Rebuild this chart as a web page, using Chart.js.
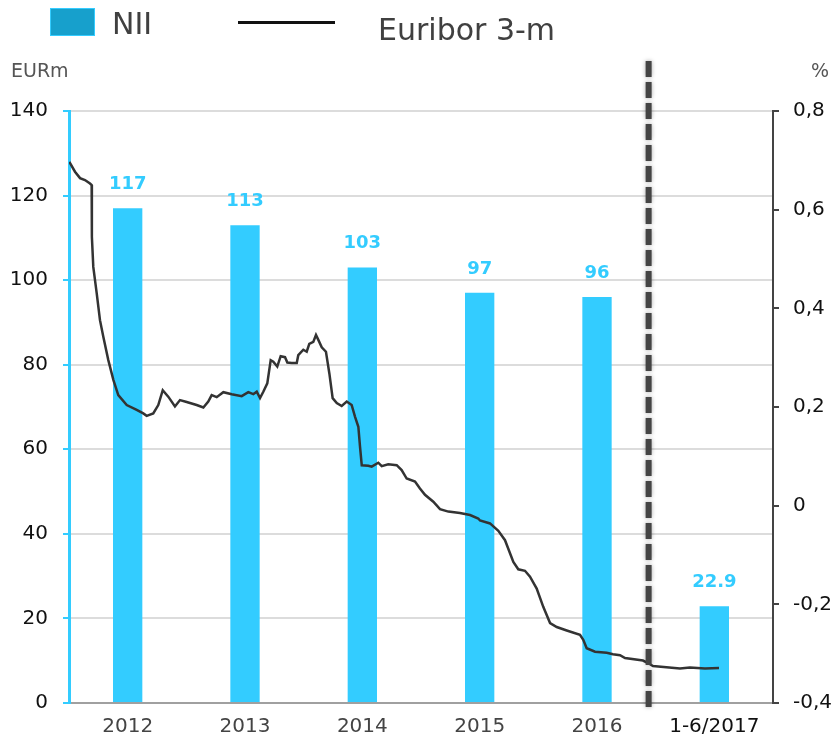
<!DOCTYPE html>
<html>
<head>
<meta charset="utf-8">
<title>NII and Euribor 3-m</title>
<script src="https://cdn.jsdelivr.net/npm/chart.js@4.4.1/dist/chart.umd.min.js"></script>
<style>
  body { margin: 0; background: #fff; }
  #wrap { position: relative; width: 838px; height: 746px; font-family: "DejaVu Sans", Verdana, sans-serif; }
  #wrap canvas { display: block; }
  #wrap .txt { position: absolute; line-height: 1; white-space: nowrap; color: #404040; }
  .swatch { position: absolute; left: 50px; top: 8px; width: 45px; height: 28px; box-sizing: border-box;
            background: #17a0cc; border: 1px solid #33ccff; }
  .legline { position: absolute; left: 238px; top: 21px; width: 97px; height: 3px; background: #111; }
</style>
</head>
<body>
<div id="wrap">
  <canvas id="niiChart" width="838" height="746"></canvas>
  <div class="swatch"></div>
  <div class="txt" style="left:112px; top:9px; font-size:30px;">NII</div>
  <div class="legline"></div>
  <div class="txt" style="left:378px; top:15px; font-size:30px;">Euribor 3-m</div>
  <div class="txt" style="left:11px; top:61px; font-size:19px; color:#555;">EURm</div>
  <div class="txt" style="left:811px; top:61px; font-size:19px; color:#555;">%</div>
</div>
<script>
const categories = ["2012", "2013", "2014", "2015", "2016", "1-6/2017"];
const niiValues = [117, 113, 103, 97, 96, 22.9];
const niiLabels = ["117", "113", "103", "97", "96", "22.9"];

// Euribor 3-m (time in years, rate in %)
const euriborTime = [
  2012.003, 2012.051, 2012.094, 2012.136, 2012.179, 2012.193, 2012.195, 2012.207, 2012.236, 2012.264,
  2012.292, 2012.335, 2012.378, 2012.420, 2012.492, 2012.577, 2012.633, 2012.662, 2012.718, 2012.761,
  2012.799, 2012.846, 2012.903, 2012.946, 2013.003, 2013.088, 2013.145, 2013.187, 2013.216, 2013.259,
  2013.315, 2013.387, 2013.472, 2013.528, 2013.571, 2013.600, 2013.628, 2013.656, 2013.690, 2013.719,
  2013.741, 2013.775, 2013.804, 2013.841, 2013.861, 2013.898, 2013.941, 2013.954, 2013.997, 2014.026,
  2014.048, 2014.082, 2014.105, 2014.125, 2014.154, 2014.190, 2014.219, 2014.247, 2014.282, 2014.324,
  2014.367, 2014.409, 2014.438, 2014.466, 2014.480, 2014.495, 2014.551, 2014.580, 2014.636, 2014.665,
  2014.721, 2014.793, 2014.835, 2014.878, 2014.949, 2014.991, 2015.034, 2015.105, 2015.162, 2015.233,
  2015.332, 2015.418, 2015.488, 2015.503, 2015.588, 2015.659, 2015.716, 2015.787, 2015.829, 2015.886,
  2015.929, 2015.986, 2016.042, 2016.100, 2016.157, 2016.242, 2016.355, 2016.383, 2016.412, 2016.483,
  2016.583, 2016.636, 2016.696, 2016.739, 2016.892, 2016.935, 2016.977, 2017.207, 2017.292, 2017.420,
  2017.540
];
const euriborRate = [
  0.697, 0.677, 0.664, 0.660, 0.653, 0.650, 0.545, 0.484, 0.431, 0.376,
  0.343, 0.295, 0.255, 0.224, 0.204, 0.194, 0.187, 0.182, 0.187, 0.204,
  0.234, 0.221, 0.201, 0.214, 0.210, 0.204, 0.199, 0.211, 0.224, 0.220,
  0.230, 0.226, 0.222, 0.230, 0.226, 0.231, 0.218, 0.231, 0.248, 0.295,
  0.292, 0.282, 0.303, 0.301, 0.290, 0.289, 0.289, 0.305, 0.316, 0.312,
  0.328, 0.332, 0.346, 0.336, 0.321, 0.312, 0.268, 0.218, 0.208, 0.202,
  0.211, 0.204, 0.180, 0.160, 0.120, 0.082, 0.081, 0.079, 0.087, 0.080,
  0.084, 0.082, 0.072, 0.055, 0.049, 0.035, 0.022, 0.008, -0.007, -0.012,
  -0.015, -0.019, -0.026, -0.030, -0.036, -0.051, -0.070, -0.114, -0.129, -0.132,
  -0.144, -0.168, -0.205, -0.238, -0.246, -0.253, -0.262, -0.272, -0.289, -0.296,
  -0.298, -0.301, -0.303, -0.309, -0.314, -0.319, -0.325, -0.330, -0.328, -0.330,
  -0.329
];

// where the dashed separator sits on the time axis
const periodBreak = 2016.94;

const FONT = "DejaVu Sans";

const barLabels = {
  id: "barLabels",
  afterDatasetsDraw(chart) {
    const ctx = chart.ctx;
    const meta = chart.getDatasetMeta(1);
    ctx.save();
    ctx.font = "bold 18px '" + FONT + "'";
    ctx.fillStyle = "#33ccff";
    ctx.textAlign = "center";
    ctx.textBaseline = "middle";
    meta.data.forEach((bar, i) => {
      ctx.fillText(niiLabels[i], bar.x, bar.y - 24);
    });
    ctx.restore();
  }
};

const breakLine = {
  id: "breakLine",
  afterDraw(chart) {
    const ctx = chart.ctx;
    const area = chart.chartArea;
    const x = chart.scales.x2.getPixelForValue(periodBreak);
    ctx.save();
    ctx.strokeStyle = "#444";
    ctx.lineWidth = 6;
    ctx.setLineDash([16, 5]);
    ctx.shadowColor = "rgba(0,0,0,0.35)";
    ctx.shadowBlur = 4;
    ctx.beginPath();
    ctx.moveTo(x, area.top - 50);
    ctx.lineTo(x, area.bottom + 5);
    ctx.stroke();
    ctx.restore();
  }
};

const ctx = document.getElementById("niiChart").getContext("2d");

new Chart(ctx, {
  type: "bar",
  data: {
    labels: categories,
    datasets: [
      {
        type: "line",
        label: "Euribor 3-m",
        data: euriborTime.map((t, i) => ({ x: t, y: euriborRate[i] })),
        xAxisID: "x2",
        yAxisID: "y1",
        borderColor: "#333",
        borderWidth: 2.5,
        pointRadius: 0,
        tension: 0,
        order: 0
      },
      {
        type: "bar",
        label: "NII",
        data: niiValues,
        xAxisID: "x",
        yAxisID: "y",
        backgroundColor: "#33ccff",
        grouped: false,
        categoryPercentage: 1,
        barPercentage: 0.25,
        order: 1
      }
    ]
  },
  options: {
    responsive: false,
    animation: false,
    layout: { padding: { top: 111, left: 0, right: 0, bottom: 0 } },
    plugins: {
      legend: { display: false },
      tooltip: { enabled: false }
    },
    scales: {
      x: {
        type: "category",
        offset: true,
        grid: { display: false, drawTicks: false },
        border: { display: true, color: "#a0a0a0", width: 2 },
        ticks: {
          padding: 12,
          color: (c) => (c.index === 5 ? "#111" : "#444"),
          font: { family: FONT, size: 20 },
          maxRotation: 0
        },
        afterFit(s) { s.height = 43; }
      },
      x2: {
        type: "linear",
        display: false,
        offset: false,
        grid: { offset: false },
        min: 2012,
        max: 2018
      },
      y: {
        position: "left",
        min: 0,
        max: 140,
        ticks: {
          stepSize: 20,
          padding: 15,
          color: "#111",
          font: { family: FONT, size: 20 }
        },
        grid: { color: "#dcdcdc", lineWidth: 2, tickColor: "#33ccff", tickLength: 6 },
        border: { color: "#33ccff", width: 3 },
        afterFit(s) { s.width = 69; }
      },
      y1: {
        position: "right",
        min: -0.4,
        max: 0.8,
        ticks: {
          stepSize: 0.2,
          padding: 14,
          color: "#111",
          font: { family: FONT, size: 20 },
          callback: (v) => (Math.abs(v) < 1e-9 ? "0" : Number(v).toFixed(1).replace(".", ","))
        },
        grid: { drawOnChartArea: false, tickColor: "#444", tickLength: 6, lineWidth: 2 },
        border: { color: "#444", width: 2 },
        afterFit(s) { s.width = 65; }
      }
    }
  },
  plugins: [barLabels, breakLine]
});
</script>
</body>
</html>
